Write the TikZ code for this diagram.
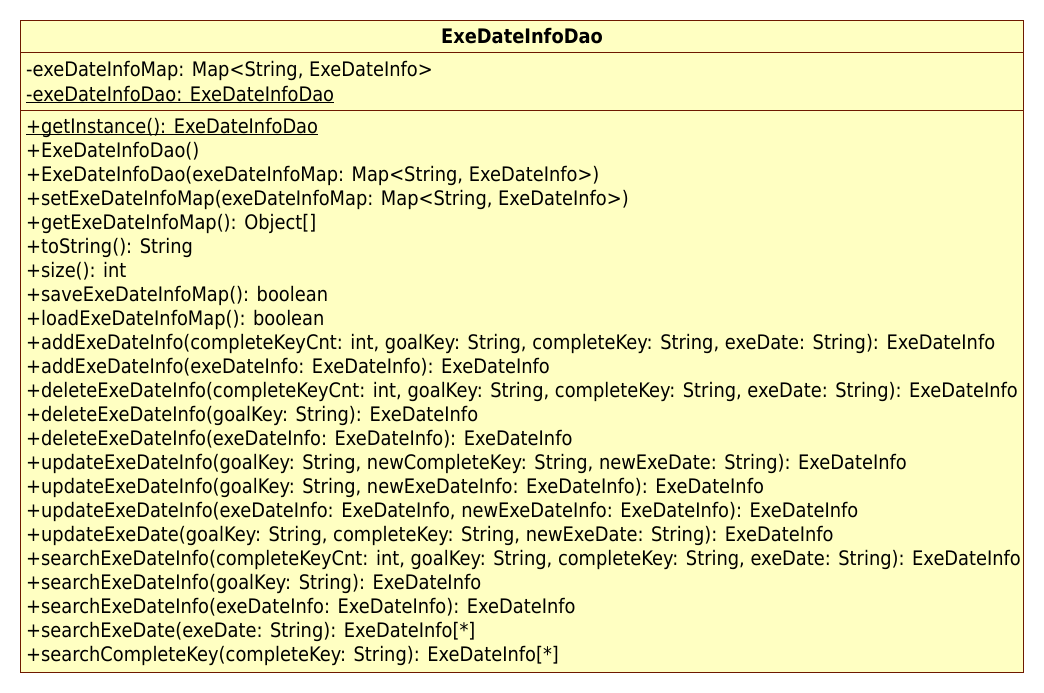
\documentclass[tikz,border=0pt]{standalone}
\usepackage{fontspec}
\setmainfont[FakeStretch=0.892]{DejaVu Sans}
\definecolor{boxfill}{RGB}{255,255,194}
\definecolor{boxline}{RGB}{110,25,0}
\newcommand\myul[1]{\setbox0\hbox{#1}\rlap{\rule[-2.4pt]{\wd0}{1pt}}\box0}
\tikzset{
  member/.style={anchor=base west, inner sep=0pt, font=\fontsize{20}{24}\selectfont, text=black},
  titletext/.style={anchor=base, inner sep=0pt, font=\fontsize{20}{24}\selectfont\bfseries, text=black},
  classbox/.style={draw=boxline, fill=boxfill, line width=1pt},
  sep/.style={draw=boxline, line width=1pt}
}
\begin{document}
\begin{tikzpicture}[x=1pt,y=-1pt]
\useasboundingbox (0,0) rectangle (1044,693);
\draw[classbox] (20.5,20.5) rectangle (1023.5,672);
\coordinate (s1l) at (20.5,53); \coordinate (s1r) at (1023.5,53);
\coordinate (s2l) at (20.5,110); \coordinate (s2r) at (1023.5,110);
\draw[sep] (s1l) -- (s1r);
\draw[sep] (s2l) -- (s2r);
\node[titletext] (title) at (522,44) {ExeDateInfoDao};
\node[member] (a1) at (26,77) {-exeDateInfoMap: Map<String, ExeDateInfo>};
\node[member] (a2) at (26,101) {\myul{-exeDateInfoDao: ExeDateInfoDao}};
\foreach \t [count=\i from 0] in {
  {\myul{+getInstance(): ExeDateInfoDao}},
  {+ExeDateInfoDao()},
  {+ExeDateInfoDao(exeDateInfoMap: Map<String, ExeDateInfo>)},
  {+setExeDateInfoMap(exeDateInfoMap: Map<String, ExeDateInfo>)},
  {+getExeDateInfoMap(): Object[]},
  {+toString(): String},
  {+size(): int},
  {+saveExeDateInfoMap(): boolean},
  {+loadExeDateInfoMap(): boolean},
  {+addExeDateInfo(completeKeyCnt: int, goalKey: String, completeKey: String, exeDate: String): ExeDateInfo},
  {+addExeDateInfo(exeDateInfo: ExeDateInfo): ExeDateInfo},
  {+deleteExeDateInfo(completeKeyCnt: int, goalKey: String, completeKey: String, exeDate: String): ExeDateInfo},
  {+deleteExeDateInfo(goalKey: String): ExeDateInfo},
  {+deleteExeDateInfo(exeDateInfo: ExeDateInfo): ExeDateInfo},
  {+updateExeDateInfo(goalKey: String, newCompleteKey: String, newExeDate: String): ExeDateInfo},
  {+updateExeDateInfo(goalKey: String, newExeDateInfo: ExeDateInfo): ExeDateInfo},
  {+updateExeDateInfo(exeDateInfo: ExeDateInfo, newExeDateInfo: ExeDateInfo): ExeDateInfo},
  {+updateExeDate(goalKey: String, completeKey: String, newExeDate: String): ExeDateInfo},
  {+searchExeDateInfo(completeKeyCnt: int, goalKey: String, completeKey: String, exeDate: String): ExeDateInfo},
  {+searchExeDateInfo(goalKey: String): ExeDateInfo},
  {+searchExeDateInfo(exeDateInfo: ExeDateInfo): ExeDateInfo},
  {+searchExeDate(exeDate: String): ExeDateInfo[*]},
  {+searchCompleteKey(completeKey: String): ExeDateInfo[*]}
}{
  \node[member] (m\i) at (26,133+24*\i) {\t};
}
\end{tikzpicture}
\end{document}
